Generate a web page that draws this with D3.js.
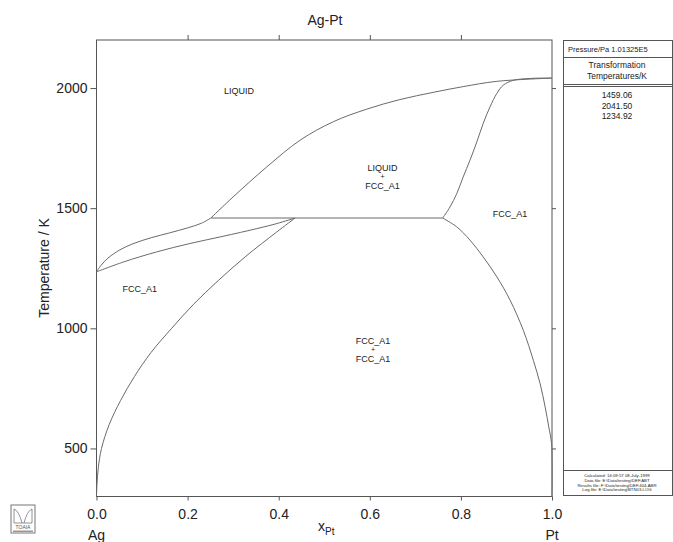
<!DOCTYPE html>
<html>
<head>
<meta charset="utf-8">
<script src="https://cdn.jsdelivr.net/npm/d3@7"></script>
<style>
  body { margin: 0; background: #fff; }
  svg { display: block; font-family: "Liberation Sans", Arial, sans-serif; }
</style>
</head>
<body>
<div id="chart"></div>
<script>
// phase boundaries, [x(Pt), T/K]
const liquidusAg = [[0, 1234.92], [0.01, 1262], [0.025, 1292], [0.05, 1325], [0.08, 1352],
  [0.12, 1377], [0.16, 1397], [0.2, 1418], [0.23, 1437], [0.251, 1459.06]];
const solidusAg = [[0, 1234.92], [0.059, 1276], [0.132, 1318], [0.205, 1353], [0.278, 1383],
  [0.352, 1415], [0.396, 1436], [0.436, 1459.06]];
const liquidusPt = [[0.251, 1459.06], [0.300, 1547], [0.374, 1672], [0.447, 1783], [0.520, 1860],
  [0.593, 1912], [0.666, 1952], [0.739, 1982], [0.805, 2006], [0.879, 2028], [1, 2041.5]];
const solidusPt = [[0.76, 1459.06], [0.776, 1505], [0.791, 1561], [0.805, 1630], [0.820, 1700],
  [0.835, 1776], [0.849, 1853], [0.864, 1922], [0.879, 1978], [0.893, 2012], [0.915, 2032],
  [0.952, 2040], [1, 2041.5]];
const gapAg = [[0, 300], [0.001, 350], [0.004, 420], [0.011, 500], [0.028, 600], [0.053, 700],
  [0.0835, 800], [0.12, 900], [0.165, 1000], [0.213, 1100], [0.268, 1200], [0.328, 1300],
  [0.395, 1400], [0.436, 1459.06]];
const gapPt = [[0.76, 1459.06], [0.791, 1422], [0.820, 1367], [0.849, 1297], [0.879, 1214],
  [0.908, 1117], [0.937, 992], [0.959, 867], [0.974, 769], [0.985, 672], [0.993, 589],
  [0.999, 520], [1, 300]];
const peritectic = [[0.251, 1459.06], [0.76, 1459.06]];

const xTicks = [0, 0.2, 0.4, 0.6, 0.8, 1.0];
const yTicks = [500, 1000, 1500, 2000];
const transformTemps = ["1459.06", "2041.50", "1234.92"];
const footerLines = ["Calculated: 14:09:57  08-July-1999", "Data file: E:\\Data\\testing\\DEF.ABT",
  "Results file: F:\\Data\\testing\\DEF.404.ABR", "Log file: E:\\Data\\testing\\BTN03.LOG"];
const phaseLabels = [
  { x: 0.313, t: 1989, lines: ["LIQUID"] },
  { x: 0.628, t: 1630, lines: ["LIQUID", "+", "FCC_A1"] },
  { x: 0.095, t: 1165, lines: ["FCC_A1"] },
  { x: 0.908, t: 1474, lines: ["FCC_A1"] },
  { x: 0.607, t: 910, lines: ["FCC_A1", "+", "FCC_A1"] }
];

const W = 673, H = 542;
const m = { left: 96.5, right: 552, top: 40, bottom: 496.5 };

const svg = d3.select("#chart").append("svg").attr("width", W).attr("height", H);

const x = d3.scaleLinear().domain([0, 1]).range([m.left, m.right]);
const y = d3.scaleLinear().domain([300, 2200]).range([m.bottom, m.top]);

const axisCol = "#555";
const lineCol = "#6a6a6a";

// frame
svg.append("rect")
  .attr("x", m.left).attr("y", m.top)
  .attr("width", m.right - m.left).attr("height", m.bottom - m.top)
  .attr("fill", "none").attr("stroke", axisCol).attr("stroke-width", 1);

function styleAxis(g) {
  g.select(".domain").remove();
  g.selectAll("line").attr("stroke", axisCol);
  g.selectAll("text").attr("fill", "#222").attr("font-size", 14)
    .attr("font-family", "Liberation Sans, Arial, sans-serif");
}

svg.append("g").attr("transform", `translate(0,${m.bottom})`)
  .call(d3.axisBottom(x).tickValues(xTicks).tickFormat(d3.format(".1f")).tickSize(4).tickPadding(9))
  .call(styleAxis);
svg.append("g").attr("transform", `translate(0,${m.top})`)
  .call(d3.axisTop(x).tickValues(xTicks.slice(1, -1)).tickFormat("").tickSize(5))
  .call(styleAxis);
svg.append("g").attr("transform", `translate(${m.left},0)`)
  .call(d3.axisLeft(y).tickValues(yTicks).tickFormat(d3.format("d")).tickSize(6).tickPadding(3))
  .call(styleAxis);
svg.append("g").attr("transform", `translate(${m.right},0)`)
  .call(d3.axisRight(y).tickValues(yTicks).tickFormat("").tickSize(4))
  .call(styleAxis);

// phase boundaries
const line = d3.line().x(d => x(d[0])).y(d => y(d[1])).curve(d3.curveCatmullRom.alpha(0.5));
const curves = [liquidusAg, solidusAg, liquidusPt, solidusPt, gapAg, gapPt];
svg.append("g").selectAll("path").data(curves).join("path")
  .attr("d", line).attr("fill", "none").attr("stroke", lineCol).attr("stroke-width", 1);
svg.append("path").attr("d", d3.line().x(d => x(d[0])).y(d => y(d[1]))(peritectic))
  .attr("fill", "none").attr("stroke", lineCol).attr("stroke-width", 1.2);

// phase labels
const lbl = svg.append("g").attr("fill", "#222").attr("text-anchor", "middle");
phaseLabels.forEach(p => {
  const n = p.lines.length;
  p.lines.forEach((s, i) => {
    const off = n === 1 ? 0 : (i - 1) * 9;
    lbl.append("text").attr("x", x(p.x)).attr("y", y(p.t) + off + (s === "+" ? 2.5 : 3))
      .attr("font-size", s === "+" ? 7 : 9).text(s);
  });
});

// titles
svg.append("text").attr("x", 325).attr("y", 25).attr("text-anchor", "middle")
  .attr("font-size", 14).attr("fill", "#222").text("Ag-Pt");
svg.append("text").attr("transform", "translate(49,268) rotate(-90)")
  .attr("text-anchor", "middle").attr("font-size", 14).attr("fill", "#222").text("Temperature / K");
const xt = svg.append("text").attr("x", 318).attr("y", 531).attr("font-size", 14).attr("fill", "#222");
xt.append("tspan").text("x");
xt.append("tspan").attr("dy", 4).attr("font-size", 10).text("Pt");
svg.append("text").attr("x", x(0)).attr("y", 540).attr("text-anchor", "middle")
  .attr("font-size", 14).attr("fill", "#222").text("Ag");
svg.append("text").attr("x", x(1)).attr("y", 540).attr("text-anchor", "middle")
  .attr("font-size", 14).attr("fill", "#222").text("Pt");

// side panel
const px0 = 563.5, px1 = 672.5;
const panel = svg.append("g").attr("fill", "#222");
panel.append("rect").attr("x", px0).attr("y", 40.5).attr("width", px1 - px0).attr("height", 455)
  .attr("fill", "none").attr("stroke", axisCol);
[57.5, 84.5, 86.5, 470.5].forEach(v => panel.append("line")
  .attr("x1", px0).attr("x2", px1).attr("y1", v).attr("y2", v).attr("stroke", axisCol));
panel.append("text").attr("x", 568).attr("y", 52).attr("font-size", 7.5).text("Pressure/Pa  1.01325E5");
panel.append("text").attr("x", 617).attr("y", 68).attr("text-anchor", "middle").attr("font-size", 8.5).text("Transformation");
panel.append("text").attr("x", 617).attr("y", 79).attr("text-anchor", "middle").attr("font-size", 8.5).text("Temperatures/K");
transformTemps.forEach((s, i) => panel.append("text").attr("x", 617).attr("y", 98 + i * 10.5)
  .attr("text-anchor", "middle").attr("font-size", 8.5).text(s));
footerLines.forEach((s, i) => panel.append("text").attr("x", 617).attr("y", 477 + i * 4.8)
  .attr("text-anchor", "middle").attr("font-size", 4.3).text(s));

// logo
const logo = svg.append("g").attr("transform", "translate(11,505)");
logo.append("rect").attr("width", 24).attr("height", 28).attr("fill", "#fff").attr("stroke", "#777");
logo.append("path").attr("d", "M3,4 Q8,6 11,18 M21,4 Q16,6 13,18 M3,4 L3,18 L21,18 L21,4")
  .attr("fill", "none").attr("stroke", "#777").attr("stroke-width", 0.8);
logo.append("text").attr("x", 12).attr("y", 24).attr("text-anchor", "middle")
  .attr("font-size", 5).attr("fill", "#555").text("TOAIA");
logo.append("rect").attr("x", 2).attr("y", 25.5).attr("width", 20).attr("height", 1.5).attr("fill", "#999");
</script>
</body>
</html>
